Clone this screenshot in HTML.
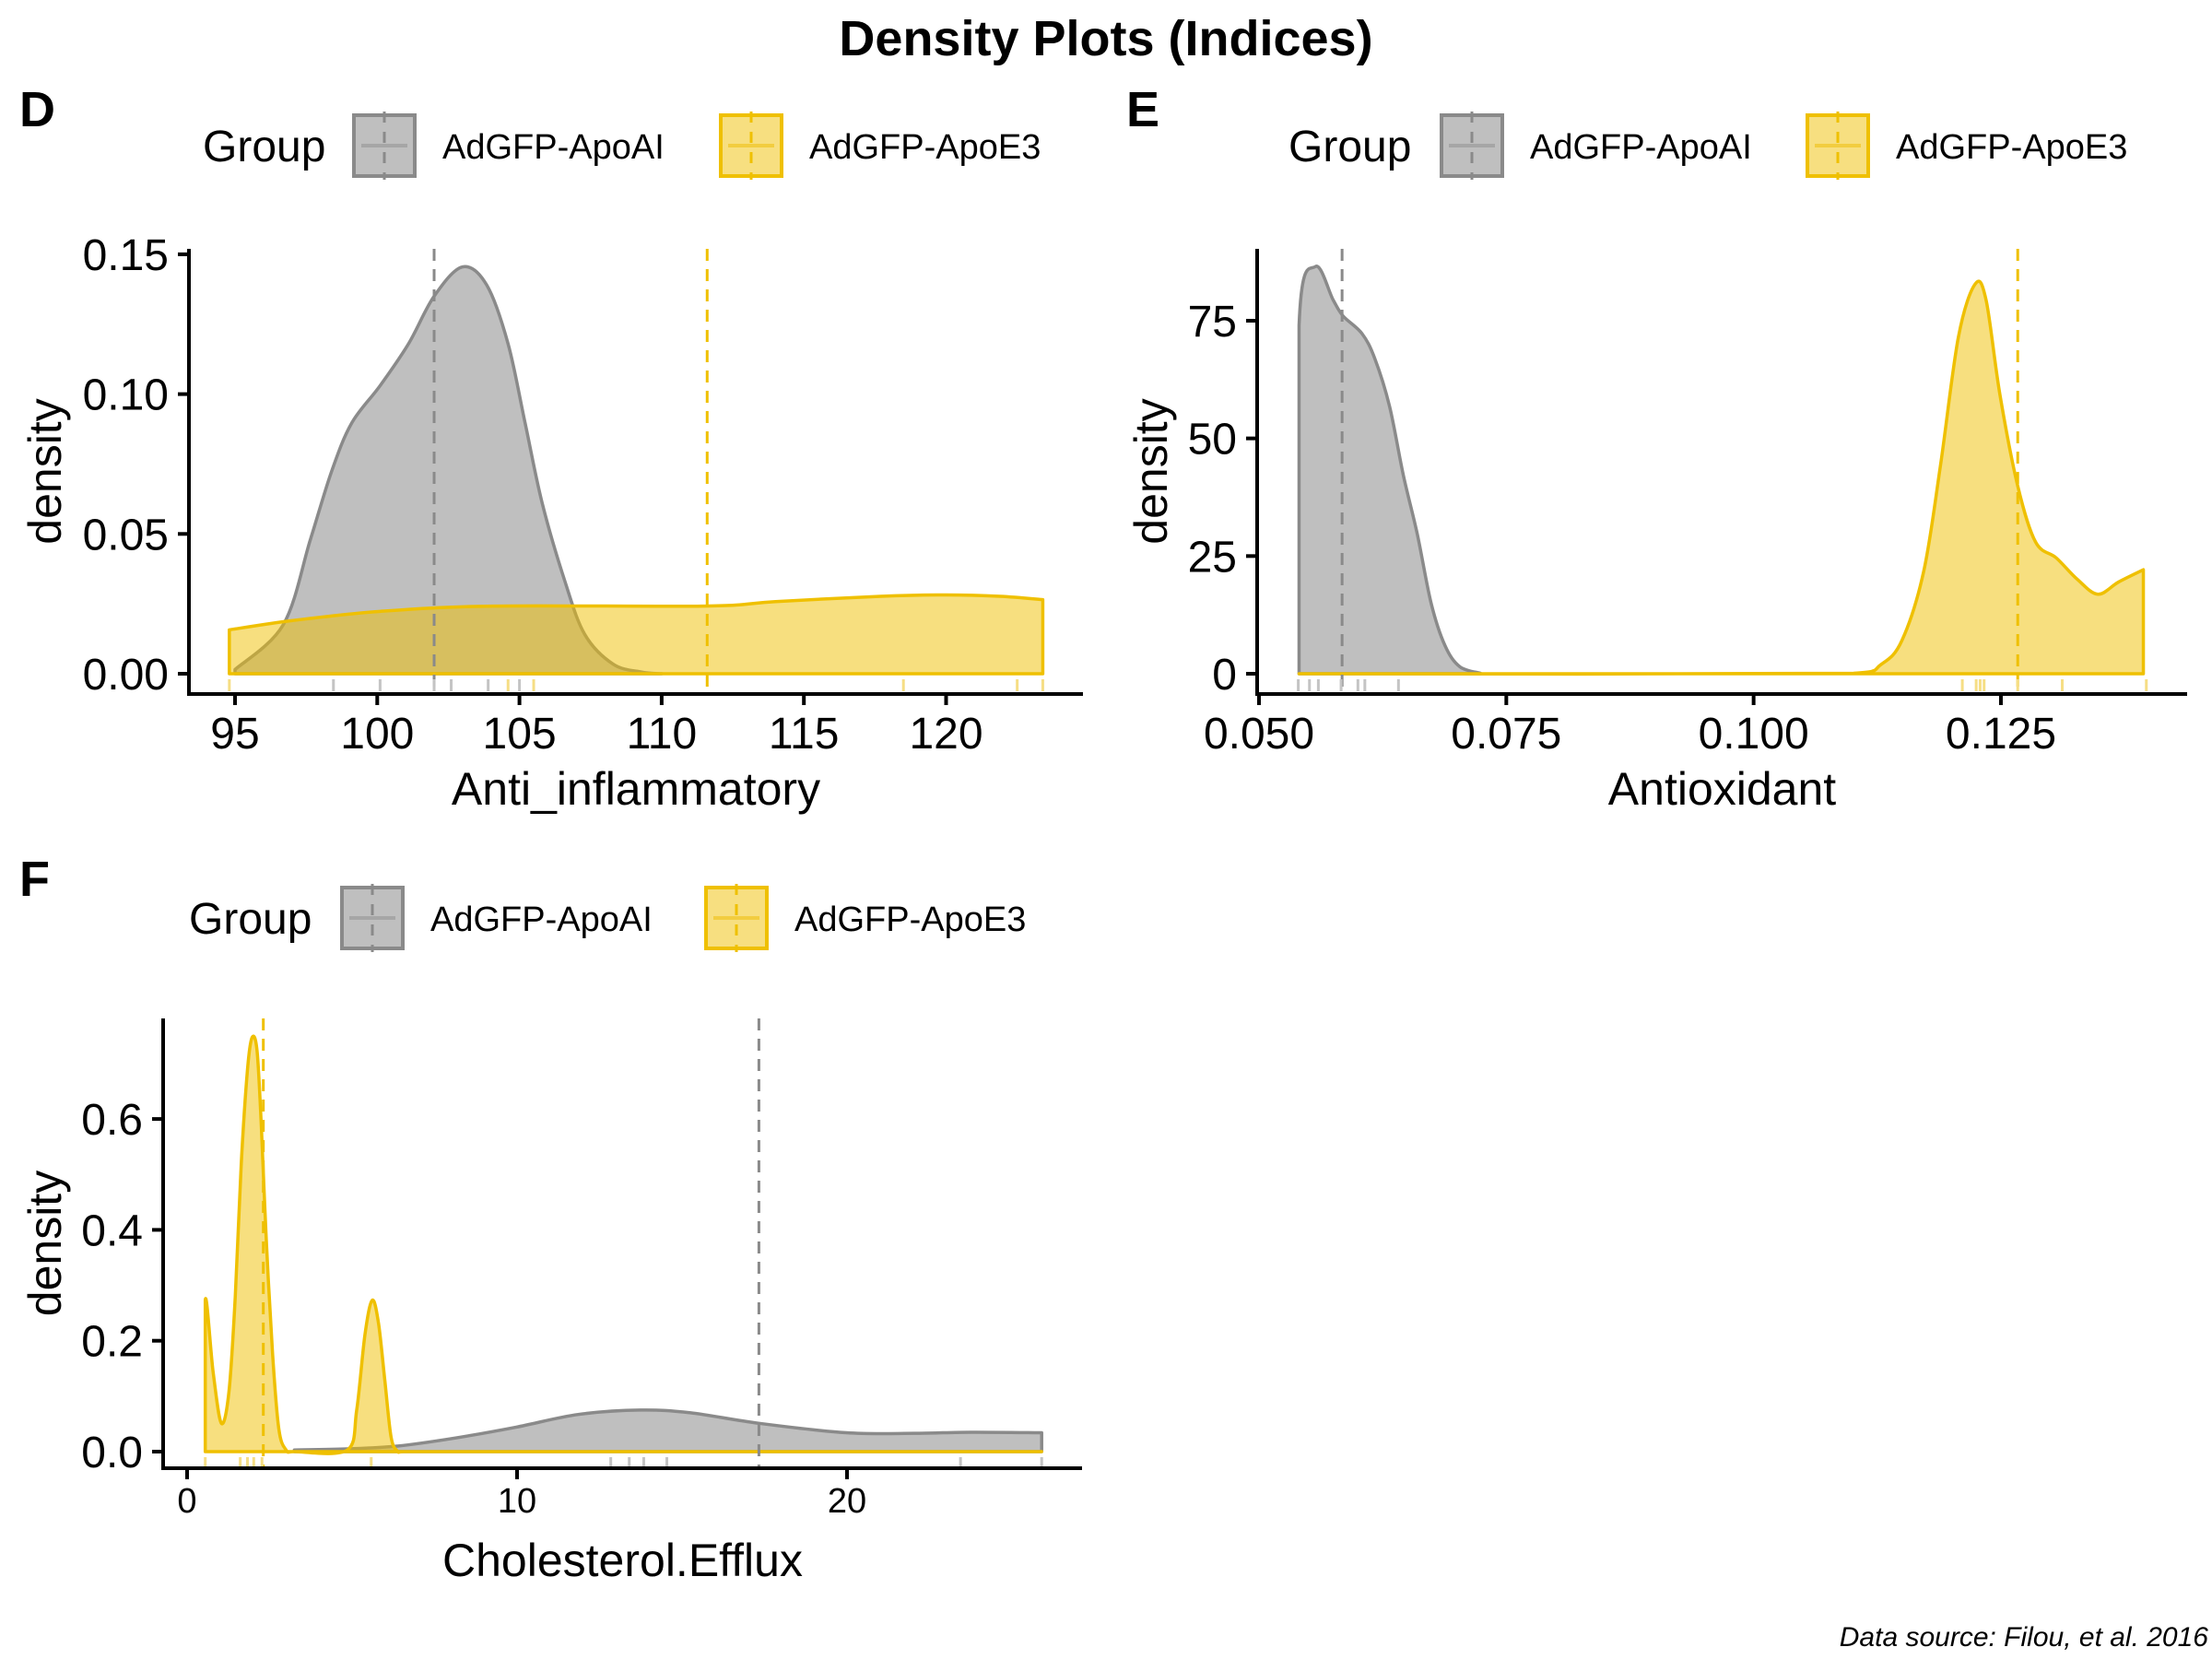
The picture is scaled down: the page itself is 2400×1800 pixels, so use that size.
<!DOCTYPE html>
<html><head><meta charset="utf-8"><title>Density Plots (Indices)</title>
<style>
html,body{margin:0;padding:0;background:#fff;}
svg{display:block;font-family:"Liberation Sans",Arial,sans-serif;}
</style></head>
<body>
<svg id="chart" xmlns="http://www.w3.org/2000/svg" width="2400" height="1800" viewBox="0 0 2400 1800">
<rect x="0" y="0" width="2400" height="1800" fill="#fff"/>
<text x="1200" y="60" text-anchor="middle" font-size="54" font-weight="bold">Density Plots (Indices)</text>
<text x="2396" y="1786" text-anchor="end" font-size="30" font-style="italic">Data source: Filou, et al. 2016</text>
</svg>
<script>
// ===== Panel D: Anti_inflammatory =====
const dApoAIx = [95.0,96.7,97.65,98.4,99.1,100.1,101.1,102.0,103.0,103.85,104.6,105.2,105.8,106.6,107.3,108.3,109.3,110.0];
const dApoAIy = [0.0015,0.0176,0.048,0.0725,0.0896,0.103,0.118,0.135,0.1455,0.139,0.118,0.0896,0.061,0.033,0.014,0.0034,0.0006,0.0];
const dApoE3x = [94.8,97.0,100.1,104.1,111.5,114.0,117.7,120.0,121.9,123.4];
const dApoE3y = [0.0157,0.019,0.0223,0.0242,0.0242,0.0258,0.0277,0.0282,0.0277,0.0265];
const dMeans = [102.0,111.6];
const dRugAI = [98.46,100.1,102.0,102.6,103.9,105.0];
const dRugE3 = [94.8,104.6,105.5,118.5,122.5,123.4];
const dXTicks = [95,100,105,110,115,120];
const dYTicks = [0,0.05,0.10,0.15];
const dYTickLabels = ["0.00","0.05","0.10","0.15"];

// ===== Panel E: Antioxidant =====
const eApoAIx = [0.05405,0.05405,0.0557,0.0575,0.0585,0.0604,0.0617,0.0632,0.0646,0.066,0.0674,0.0688,0.0703,0.0724];
const eApoAIy = [0,74,86.5,79.4,76,72.3,67,56.8,42.1,29.7,15,6,1.5,0.1];
const eApoE3x = [0.05405,0.1101,0.1129,0.115,0.1172,0.1189,0.1207,0.1224,0.1235,0.1249,0.1267,0.1285,0.1306,0.1327,0.1348,0.1369,0.1394];
const eApoE3y = [0,0.1,2,7.1,21.8,44.4,71.5,82.8,79.4,59.3,39.9,28,24.6,20.1,16.9,19.5,22.1];
const eMeans = [0.0584,0.1267];
const eRugAI = [0.05397,0.0551,0.0560,0.0583,0.0600,0.0607,0.0641];
const eRugE3 = [0.1211,0.1225,0.1229,0.1233,0.1267,0.1312,0.1397];
const eXTicks = [0.050,0.075,0.100,0.125];
const eXTickLabels = ["0.050","0.075","0.100","0.125"];
const eYTicks = [0,25,50,75];

// ===== Panel F: Cholesterol.Efflux =====
const fApoAIx = [3.25,4.86,6.37,8.07,9.96,11.85,13.74,15.26,17.34,19.98,22.06,23.76,25.9];
const fApoAIy = [0.003,0.005,0.01,0.024,0.044,0.067,0.075,0.07,0.051,0.034,0.033,0.035,0.034];
const fApoE3x = [0.55,0.55,0.79,1.04,1.27,1.46,1.64,1.83,1.97,2.12,2.25,2.40,2.59,2.78,3.0,3.25,4.86,5.14,5.39,5.61,5.80,5.99,6.18,6.37,6.56,25.9];
const fApoE3y = [0,0.273,0.143,0.051,0.109,0.28,0.518,0.689,0.747,0.723,0.587,0.382,0.177,0.041,0.003,0,0.003,0.075,0.211,0.273,0.232,0.13,0.027,0.001,0,0];
const fMeans = [17.33,2.31];
const fRugAI = [12.84,13.4,13.84,14.54,23.44,25.9];
const fRugE3 = [0.55,1.61,1.83,2.02,2.27,5.58];
const fXTicks = [0,10,20];
const fYTicks = [0,0.2,0.4,0.6];
const fYTickLabels = ["0.0","0.2","0.4","0.6"];

const GREY_LINE = "#8a8a8a", GREY_FILL = "#808080";
const YEL_LINE = "#efc000", YEL_FILL = "#efc000";
const NS = "http://www.w3.org/2000/svg";
const svg = document.getElementById('chart');

function mk(tag, attrs, parent) {
  const el = document.createElementNS(NS, tag);
  for (const k in attrs) el.setAttribute(k, attrs[k]);
  (parent || svg).appendChild(el);
  return el;
}

function smoothPath(pts) {
  let d = 'M' + pts[0][0] + ',' + pts[0][1];
  for (let i = 0; i < pts.length - 1; i++) {
    const p0 = pts[i - 1] || pts[i], p1 = pts[i], p2 = pts[i + 1], p3 = pts[i + 2] || p2;
    const t = 1 / 6;
    let c1x = p1[0] + (p2[0] - p0[0]) * t, c1y = p1[1] + (p2[1] - p0[1]) * t;
    let c2x = p2[0] - (p3[0] - p1[0]) * t, c2y = p2[1] - (p3[1] - p1[1]) * t;
    // keep x monotone
    c1x = Math.min(Math.max(c1x, p1[0]), p2[0]);
    c2x = Math.min(Math.max(c2x, p1[0]), p2[0]);
    d += ' C' + c1x + ',' + c1y + ' ' + c2x + ',' + c2y + ' ' + p2[0] + ',' + p2[1];
  }
  return d;
}

function panel(cfg) {
  const g = mk('g', {});
  
  
  const sx = v => cfg.x0 + (v - cfg.xv0) * cfg.xk;
  const sy = v => cfg.y0 - v * cfg.yk;

  const tag = mk('text', {x: cfg.tagX, y: cfg.tagY, 'font-size': 54, 'font-weight': 'bold'}, g);
  tag.textContent = cfg.letter;
  
  

  const lg = mk('g', {}, g);
  
  
  const lt = mk('text', {x: cfg.legX, y: cfg.legCY + 17, 'font-size': 48}, lg);
  lt.textContent = 'Group';
  
  
  const keys = [
    {bx: cfg.legBox1, lab: 'AdGFP-ApoAI', fill: '#bfbfbf', line: GREY_LINE, mid: '#a6a6a6'},
    {bx: cfg.legBox2, lab: 'AdGFP-ApoE3', fill: '#f7df80', line: YEL_LINE, mid: '#f2cd40'}
  ];
  keys.forEach((k) => {
    const e = mk('g', {}, lg);
    
    
    const top = cfg.legCY - 33;
    mk('rect', {x: k.bx, y: top, width: 66, height: 66, fill: k.fill, stroke: k.line, 'stroke-width': 4}, e);
    mk('line', {x1: k.bx + 8, x2: k.bx + 58, y1: cfg.legCY, y2: cfg.legCY, stroke: k.mid, 'stroke-width': 4}, e);
    mk('line', {x1: k.bx + 33, x2: k.bx + 33, y1: top - 4, y2: top + 70, stroke: k.line, 'stroke-width': 3, 'stroke-dasharray': '12 10'}, e);
    const t = mk('text', {x: k.bx + 96, y: cfg.legCY + 14, 'font-size': 38}, e);
    t.textContent = k.lab;
    
    
  });

  function area(xs, ys, fill, line, nm) {
    const pts = [[sx(xs[0]), sy(0)]];
    for (let i = 0; i < xs.length; i++) pts.push([sx(xs[i]), sy(ys[i])]);
    let d = 'M' + sx(xs[0]) + ',' + sy(0) + ' L' + pts[1][0] + ',' + pts[1][1];
    d += smoothPath(pts.slice(1)).replace(/^M[^C]*/, ' ');
    d += ' L' + sx(xs[xs.length - 1]) + ',' + sy(0) + ' Z';
    const p = mk('path', {d: d, fill: fill, 'fill-opacity': 0.5, stroke: line, 'stroke-width': 3.5, 'stroke-linejoin': 'round'}, g);
    
    
  }
  area(cfg.aiX, cfg.aiY, GREY_FILL, GREY_LINE, 'density-apoai');
  area(cfg.e3X, cfg.e3Y, YEL_FILL, YEL_LINE, 'density-apoe3');

  [[cfg.means[0], GREY_LINE, 'mean-line-apoai'], [cfg.means[1], YEL_LINE, 'mean-line-apoe3']].forEach(m => {
    const l = mk('line', {x1: sx(m[0]), x2: sx(m[0]), y1: cfg.axTop, y2: cfg.y0 + 18, stroke: m[1], 'stroke-width': 3, 'stroke-dasharray': '13 9'}, g);
    
    
  });

  [[cfg.rugAI, '#c4c4c4', 'rug-apoai'], [cfg.rugE3, '#f6de85', 'rug-apoe3']].forEach(r => {
    r[0].forEach(v => {
      const l = mk('line', {x1: sx(v), x2: sx(v), y1: cfg.y0 + 6, y2: cfg.y0 + 19, stroke: r[1], 'stroke-width': 3}, g);
      
      
    });
  });

  const ax = mk('path', {d: 'M' + cfg.axLeft + ',' + cfg.axTop + ' V' + cfg.axBottom + ' H' + cfg.axRight, fill: 'none', stroke: '#000', 'stroke-width': 4}, g);
  
  

  cfg.xTicks.forEach((v, i) => {
    const x = sx(v);
    const t = mk('line', {x1: x, x2: x, y1: cfg.axBottom, y2: cfg.axBottom + 12, stroke: '#000', 'stroke-width': 4}, g);
    
    
    const lb = mk('text', {x: x, y: cfg.axBottom + cfg.xLabOff, 'text-anchor': 'middle', 'font-size': cfg.xLabSize}, g);
    lb.textContent = cfg.xTickLabels ? cfg.xTickLabels[i] : String(v);
    
    
  });
  cfg.yTicks.forEach((v, i) => {
    const y = sy(v);
    const t = mk('line', {x1: cfg.axLeft - 12, x2: cfg.axLeft, y1: y, y2: y, stroke: '#000', 'stroke-width': 4}, g);
    
    
    const lb = mk('text', {x: cfg.axLeft - 22, y: y + 17, 'text-anchor': 'end', 'font-size': 48}, g);
    lb.textContent = cfg.yTickLabels ? cfg.yTickLabels[i] : String(v);
    
    
  });

  const xt = mk('text', {x: (cfg.axLeft + cfg.axRight) / 2, y: cfg.xTitleY, 'text-anchor': 'middle', 'font-size': 50}, g);
  xt.textContent = cfg.xTitle;
  
  
  const cy = (cfg.axTop + cfg.axBottom) / 2;
  const yt = mk('text', {x: cfg.yTitleX, y: cy, 'text-anchor': 'middle', 'font-size': 50, transform: 'rotate(-90 ' + cfg.yTitleX + ' ' + cy + ')'}, g);
  yt.textContent = 'density';
  
  
}

panel({name: 'panel-d-anti-inflammatory', letter: 'D', tagX: 21, tagY: 137,
  legX: 220, legCY: 158, legBox1: 384, legBox2: 782,
  x0: 255, xv0: 95, xk: 30.86, y0: 731, yk: 3034,
  axLeft: 205, axRight: 1175, axTop: 270, axBottom: 753,
  aiX: dApoAIx, aiY: dApoAIy, e3X: dApoE3x, e3Y: dApoE3y, means: dMeans, rugAI: dRugAI, rugE3: dRugE3,
  xTicks: dXTicks, yTicks: dYTicks, yTickLabels: dYTickLabels, xLabOff: 59, xLabSize: 48,
  xTitle: 'Anti_inflammatory', xTitleY: 873, yTitleX: 66});

panel({name: 'panel-e-antioxidant', letter: 'E', tagX: 1222, tagY: 137,
  legX: 1398, legCY: 158, legBox1: 1564, legBox2: 1961,
  x0: 1366, xv0: 0.05, xk: 10733, y0: 731, yk: 5.107,
  axLeft: 1364, axRight: 2373, axTop: 270, axBottom: 753,
  aiX: eApoAIx, aiY: eApoAIy, e3X: eApoE3x, e3Y: eApoE3y, means: eMeans, rugAI: eRugAI, rugE3: eRugE3,
  xTicks: eXTicks, xTickLabels: eXTickLabels, yTicks: eYTicks, xLabOff: 59, xLabSize: 48,
  xTitle: 'Antioxidant', xTitleY: 873, yTitleX: 1266});

panel({name: 'panel-f-cholesterol-efflux', letter: 'F', tagX: 21, tagY: 972,
  legX: 205, legCY: 996, legBox1: 371, legBox2: 766,
  x0: 203, xv0: 0, xk: 35.8, y0: 1575, yk: 601.5,
  axLeft: 177, axRight: 1174, axTop: 1105, axBottom: 1593,
  aiX: fApoAIx, aiY: fApoAIy, e3X: fApoE3x, e3Y: fApoE3y, means: fMeans, rugAI: fRugAI, rugE3: fRugE3,
  xTicks: fXTicks, yTicks: fYTicks, yTickLabels: fYTickLabels, xLabOff: 48, xLabSize: 38,
  xTitle: 'Cholesterol.Efflux', xTitleY: 1710, yTitleX: 66});
</script>
</body></html>
